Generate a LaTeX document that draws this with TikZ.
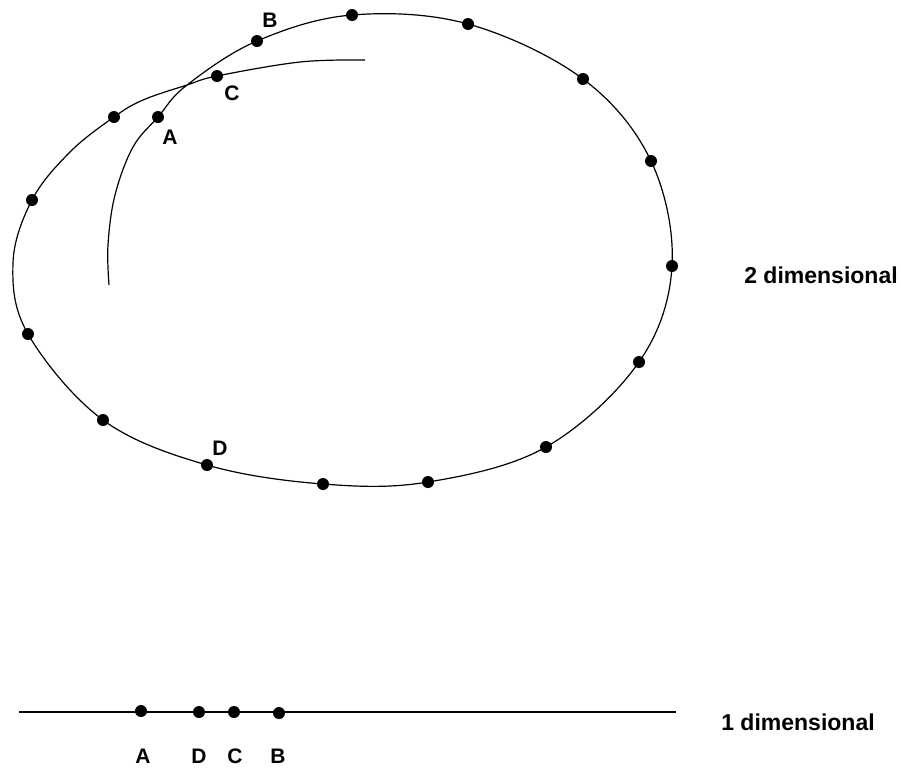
\documentclass[tikz,border=0pt]{standalone}
\usepackage{fontspec}
\setmainfont{Liberation Sans}
\usetikzlibrary{calc}

\begin{document}
\begin{tikzpicture}[x=1pt,y=-1pt,line width=1.2pt,
    dot/.style={circle,fill,inner sep=0pt,minimum size=12pt},
    lbl/.style={font=\fontsize{21}{24}\selectfont\bfseries,inner sep=0pt},
    dimlbl/.style={font=\fontsize{23}{26}\selectfont\bfseries,inner sep=0pt}]
    \useasboundingbox (0,0) rectangle (901,769);

    % curva a spirale
    \draw plot[smooth,tension=0.6] coordinates {
        (365,60) (300,62) (217,76) (187,85) (143,100) (114,117)
        (70,152) (32,200) (13,263) (28,334) (103,420) (207,465)
        (323,484) (428,482) (546,447) (639,362) (672,266)
        (651,161) (583,79) (468,24) (352,15) (257,41) (187,85)
        (158,117) (133,147) (115,195) (108,245) (109,285)};

    % punti sulla curva
    \node[dot] (A) at (158,117) {};
    \node[dot] (B) at (257,41) {};
    \node[dot] (C) at (217,76) {};
    \node[dot] (D) at (207,465) {};
    \foreach \p [count=\i] in {(114,117),(32,200),(28,334),(103,420),
        (323,484),(428,482),(546,447),(639,362),(672,266),(651,161),
        (583,79),(468,24),(352,15)}
        \node[dot] (q\i) at \p {};

    % etichette 2D
    \node[lbl] (labA) at (170,137) {A};
    \node[lbl] (labB) at (270,20) {B};
    \node[lbl] (labC) at (232,93) {C};
    \node[lbl] (labD) at (220,448) {D};
    \node[dimlbl] (two) at (821,275) {2 dimensional};

    % retta 1D
    \coordinate (s) at (19,712);
    \coordinate (e) at (676,712);
    \draw (s) -- (e);
    \node[dot] (a1) at (141,711) {};
    \node[dot] (d1) at (199,712) {};
    \node[dot] (c1) at (234,712) {};
    \node[dot] (b1) at (279,713) {};

    % etichette 1D
    \node[lbl] (labA1) at (143,756) {A};
    \node[lbl] (labD1) at (199,756) {D};
    \node[lbl] (labC1) at (235,756) {C};
    \node[lbl] (labB1) at (278,756) {B};
    \node[dimlbl] (one) at (798,722) {1 dimensional};
\end{tikzpicture}
\end{document}
